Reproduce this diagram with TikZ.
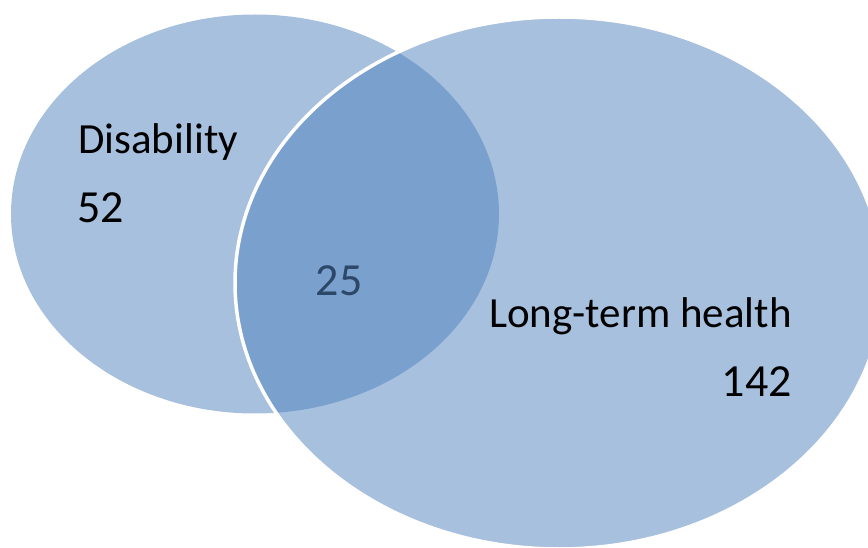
\documentclass[tikz,border=0pt]{standalone}
\usepackage{fontspec}
\setmainfont{Carlito}
\usetikzlibrary{shapes.geometric}
\definecolor{vennblue}{HTML}{4F81BD}
\definecolor{midtext}{HTML}{2C4767}
\tikzset{
  setshape/.style={ellipse, inner sep=0pt, fill=vennblue, fill opacity=0.5, draw opacity=1},
  labeltext/.style={inner sep=0pt, font=\fontsize{43}{43}\selectfont, text=black},
  numtext/.style={inner sep=0pt, font=\fontsize{46}{46}\selectfont, text=black},
}
\begin{document}
\begin{tikzpicture}[x=1pt,y=-1pt]
\useasboundingbox (0,0) rectangle (868,548);
\node[setshape, minimum width=488pt, minimum height=399pt] (left) at (255,214) {};
\node[setshape, draw=white, line width=3.5pt, minimum width=648pt, minimum height=532pt] (right) at (559,283) {};
\node[labeltext, anchor=base west] (dislab) at (78,154) {Disability};
\node[numtext, anchor=base west] (disnum) at (77,223) {52};
\node[numtext, anchor=base, text=midtext] (both) at (339,296) {25};
\node[labeltext, anchor=base east] (ltlab) at (792,327) {Long-term health};
\node[numtext, anchor=base east] (ltnum) at (792,396) {142};
\end{tikzpicture}
\end{document}
